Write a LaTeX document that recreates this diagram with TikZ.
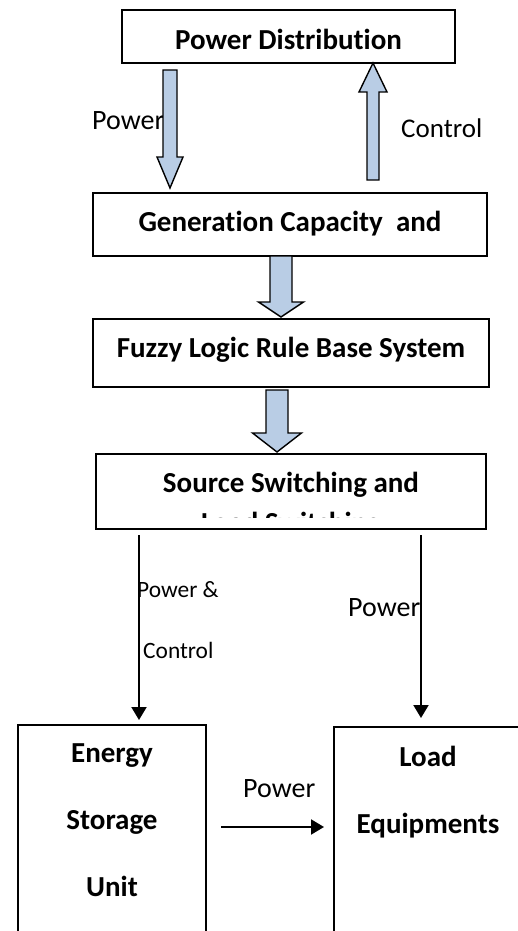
\documentclass[tikz,border=0pt]{standalone}
\usepackage{fontspec}
\setmainfont[Ligatures=NoCommon]{Carlito}
\usetikzlibrary{calc, arrows.meta}
\definecolor{ArrowFill}{RGB}{185,205,229}
\tikzset{
    box/.style={draw, line width=1.8pt, inner sep=0pt, outer sep=0pt,
        font=\bfseries\fontsize{29}{34}\selectfont},
    boxtxt/.style={inner sep=0pt, align=center,
        font=\bfseries\fontsize{29}{67}\selectfont},
    lbl/.style={inner sep=0pt, anchor=base west, font=\fontsize{28}{34}\selectfont},
    small lbl/.style={lbl, font=\fontsize{23.4}{28}\selectfont},
    link/.style={line width=2pt, -{Triangle[length=13pt,width=15pt]}},
    % hollow block arrow: shaft half width, head half width, head length
    fat arrow/.style n args={3}{draw, line width=1.4pt, fill=ArrowFill,
        to path={let \p1=(\tikztostart), \p2=(\tikztotarget),
            \n1={ifthenelse(\y2<\y1,1,-1)} in
            ({\x1-#1},\y1) -- ({\x1-#1},{\y2+\n1*#3}) -- ({\x1-#2},{\y2+\n1*#3})
            -- (\x1,\y2) -- ({\x1+#2},{\y2+\n1*#3}) -- ({\x1+#1},{\y2+\n1*#3})
            -- ({\x1+#1},\y1) -- cycle}}
}

\begin{document}
\begin{tikzpicture}[x=1pt, y=-1pt]
\useasboundingbox (0,0) rectangle (518,931);
\clip (0,0) rectangle (518,931);

% Blocks of the chain
\node[box, minimum width=333, minimum height=53, text height=27pt, text depth=0pt]
    (dist) at (288.5,36.5) {Power Distribution};
\node[box, minimum width=394, minimum height=63, text height=20pt, text depth=7pt]
    (gen) at (290,224.5) {Generation Capacity~ and};
\node[box, minimum width=396, minimum height=68, text height=20pt, text depth=12pt]
    (fuzzy) at (291,353) {Fuzzy Logic Rule Base System};
\node[box, minimum width=390, minimum height=75, text height=20pt, text depth=19pt]
    (switch) at (291,491.5) {Source Switching and};

% Second line of the switching block, cut off by the box
\begin{scope}
    \clip (switch.north west) rectangle ([yshift=11.5pt]switch.south east);
    \node[boxtxt, anchor=base] (switchmore) at (291,532) {Load Switching};
\end{scope}

% Storage and load blocks run off the page
\node[box, minimum width=188, minimum height=240, anchor=north] (store) at (112,725) {};
\node[box, minimum width=188, minimum height=240, anchor=north] (load) at (428,727) {};
\node[boxtxt, anchor=north] (storetxt) at ([yshift=-18.7pt]store.north) {Energy\\Storage\\Unit};
\node[boxtxt, anchor=north] (loadtxt) at ([yshift=-18.6pt]load.north) {Load\\Equipments};

% Labels
\node[lbl] (pwrin) at (92,130) {Power};
\node[lbl, font=\fontsize{27}{32}\selectfont] (ctrlout) at (401,138) {Control};
\node[small lbl] (pwrctl) at (137,597) {Power \&};
\node[small lbl] (ctl) at (143,658) {Control};
\node[lbl] (pwrload) at (348,616) {Power};
\node[lbl] (pwrstore) at (243,797) {Power};

% Block arrows
\path[fat arrow={7pt}{13pt}{31pt}]
    ([xshift=-118.5pt,yshift=-7pt]dist.south) to ([xshift=-120pt,yshift=5pt]gen.north);
\path[fat arrow={6pt}{14pt}{29pt}]
    ([xshift=83pt,yshift=13pt]gen.north) to ([xshift=84.5pt]dist.south);
\path[fat arrow={11pt}{22.5pt}{15pt}]
    ([xshift=-9pt]gen.south) to ([xshift=-10pt,yshift=2pt]fuzzy.north);
\path[fat arrow={11pt}{24.5pt}{19pt}]
    ([xshift=-14pt,yshift=-3pt]fuzzy.south) to ([xshift=-14pt,yshift=2pt]switch.north);

% Thin links
\draw[link] ([xshift=-152pt,yshift=-6pt]switch.south) -- ([xshift=27pt,yshift=5pt]store.north);
\draw[link] ([xshift=130pt,yshift=-6pt]switch.south) -- ([xshift=-7pt,yshift=9pt]load.north);
\draw[link] ([xshift=15pt,yshift=18pt]store.east) -- ([xshift=-10pt,yshift=20pt]load.west);

\end{tikzpicture}
\end{document}
